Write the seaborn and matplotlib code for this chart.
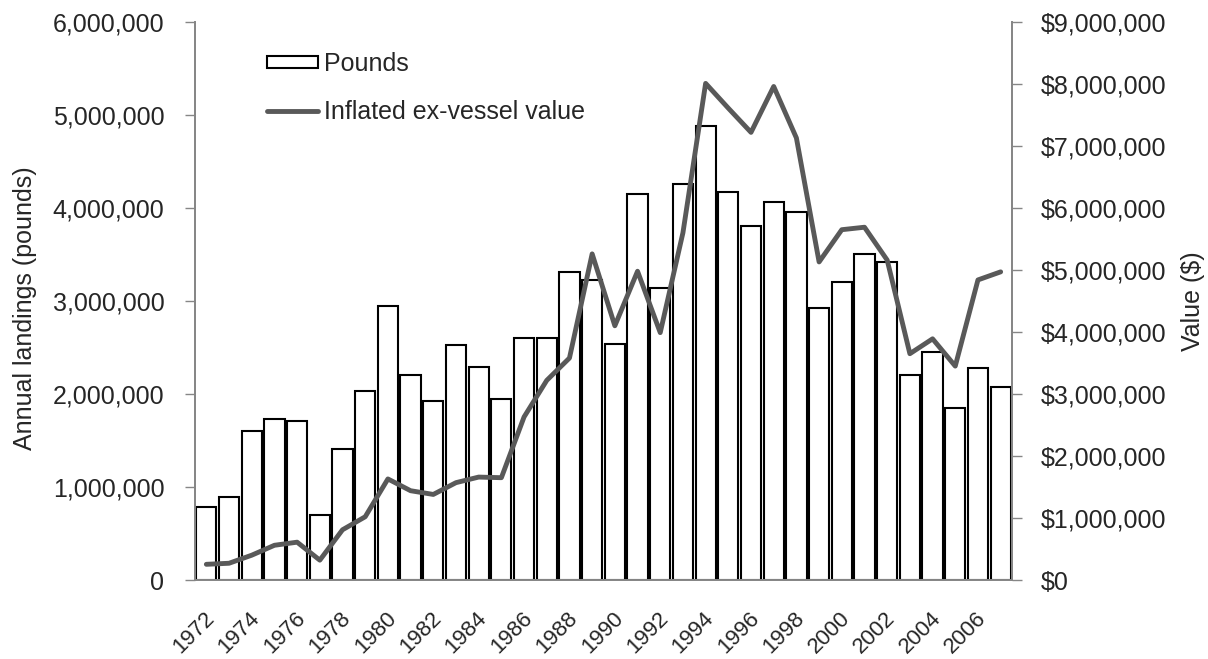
import numpy as np
import pandas as pd
import matplotlib
matplotlib.use("Agg")
import matplotlib.pyplot as plt
from matplotlib.patches import Patch
from matplotlib.lines import Line2D
from matplotlib.ticker import FuncFormatter
from matplotlib.transforms import ScaledTranslation
import seaborn as sns

years = list(range(1972, 2008))
pounds = [790000, 890000, 1600000, 1730000, 1710000, 700000, 1410000, 2030000,
          2950000, 2200000, 1930000, 2530000, 2290000, 1945000, 2600000, 2600000,
          3310000, 3230000, 2540000, 4150000, 3140000, 4260000, 4880000, 4170000,
          3810000, 4060000, 3955000, 2925000, 3200000, 3510000, 3420000, 2200000,
          2450000, 1850000, 2280000, 2070000]
value = [253000, 270000, 400000, 560000, 610000, 320000, 810000, 1020000,
         1630000, 1440000, 1380000, 1570000, 1660000, 1650000, 2630000, 3220000,
         3580000, 5260000, 4100000, 4980000, 3990000, 5600000, 8010000, 7610000,
         7220000, 7960000, 7130000, 5130000, 5650000, 5690000, 5160000, 3650000,
         3890000, 3450000, 4840000, 4970000]
year_labels = [str(y) for y in years]

df = pd.DataFrame({"pos": np.arange(len(years)), "year": year_labels,
                   "pounds": pounds, "value": value})

sns.set_theme(style="white")
plt.rcParams["font.family"] = ["Liberation Sans", "DejaVu Sans"]
grey = "#868686"
line_col = "#595959"
FS = 18

fig = plt.figure(figsize=(12.08, 6.59), dpi=100)
ax = fig.add_axes([195 / 1208, 1 - 580 / 659, (1012 - 195) / 1208, (580 - 22) / 659])

sns.barplot(data=df, x="pos", y="pounds", native_scale=True, width=0.89,
            color="white", edgecolor="black", linewidth=1.5, saturation=1, ax=ax)
ax.set_xlim(-0.5, len(years) - 0.5)
ax.set_ylim(0, 6000000)
ax.set_yticks(np.arange(0, 6000001, 1000000))
ax.yaxis.set_major_formatter(FuncFormatter(lambda v, p: f"{int(v):,}"))
ax.set_ylabel("Annual landings (pounds)", fontsize=FS)
ax.yaxis.set_label_coords(-0.194, 0.488)
ax.set_xlabel("")

ax.set_xticks(df["pos"][::2])
ax.set_xticklabels(year_labels[::2], rotation=45, ha="right", va="center",
                   rotation_mode="anchor")
ax.set_xticks(np.arange(-0.5, len(years), 1), minor=True)
ax.tick_params(axis="x", which="major", length=0, labelsize=16, pad=25)
ax.tick_params(axis="x", which="minor", length=6, width=1, color=grey, direction="out")
ax.tick_params(axis="y", length=7, width=1, color=grey, direction="out", labelsize=FS,
               left=True, pad=15)
offset = ScaledTranslation(5 / 100, 0, fig.dpi_scale_trans)
for lab in ax.get_xticklabels():
    lab.set_transform(lab.get_transform() + offset)

ax2 = ax.twinx()
sns.lineplot(data=df, x="pos", y="value", color=line_col, linewidth=3.5, ax=ax2)
ax2.set_ylim(0, 9000000)
ax2.set_yticks(np.arange(0, 9000001, 1000000))
ax2.yaxis.set_major_formatter(FuncFormatter(lambda v, p: f"${int(v):,}"))
ax2.set_ylabel("Value ($)", fontsize=FS, labelpad=10)
ax2.set_xlabel("")
ax2.tick_params(axis="y", length=7, width=1, color=grey, direction="out", labelsize=FS,
                right=True, pad=14)

for a in (ax, ax2):
    a.spines["top"].set_visible(False)
    for s in ("left", "right", "bottom"):
        a.spines[s].set_color(grey)
        a.spines[s].set_linewidth(1.3)
    a.grid(False)

handles = [Patch(facecolor="white", edgecolor="black", linewidth=1.5),
           Line2D([0], [0], color=line_col, linewidth=3.5)]
ax2.legend(handles, ["Pounds", "Inflated ex-vessel value"], loc="upper left",
           bbox_to_anchor=(267 / 1208, 1 - 52 / 659), bbox_transform=fig.transFigure,
           frameon=False, fontsize=FS, borderpad=0, borderaxespad=0,
           handlelength=2.05, handleheight=0.4, handletextpad=0.25, labelspacing=0.95)

fig.savefig("out.png", dpi=100)
